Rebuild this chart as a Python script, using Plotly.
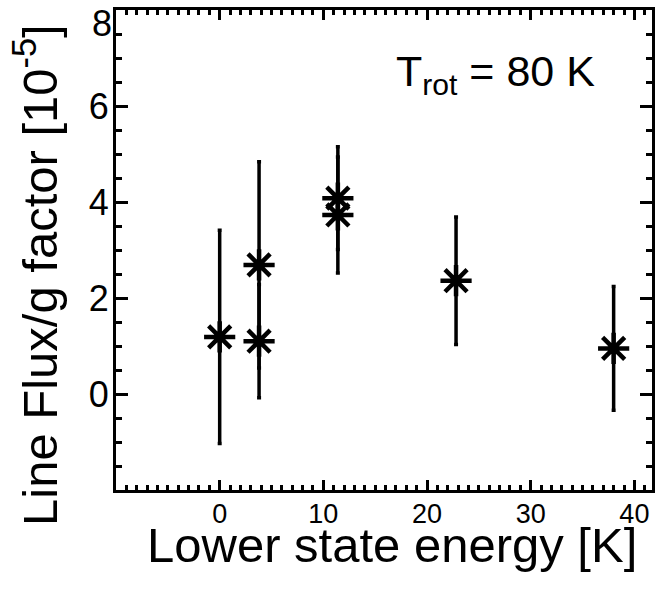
import plotly.graph_objects as go

# Data
energy = [0.0, 3.8, 3.8, 11.4, 11.4, 22.8, 38.0]          # Lower state energy [K]
flux_g = [1.19, 2.69, 1.10, 4.08, 3.73, 2.36, 0.95]         # Line flux / g factor [1e-5]
flux_err = [2.22, 2.15, 1.18, 1.07, 1.21, 1.33, 1.29]

x_ticks = [0, 10, 20, 30, 40]
y_ticks = [0, 2, 4, 6]
y_top_label = "8"

FONT = "Liberation Sans, Arial, Helvetica, sans-serif"

fig = go.Figure()
fig.add_trace(go.Scatter(
    x=energy, y=flux_g, mode="markers",
    marker=dict(symbol="asterisk-open", size=26, color="black",
                line=dict(color="black", width=4.5)),
    error_y=dict(type="data", array=flux_err, visible=True,
                 color="black", thickness=3.5, width=2),
    showlegend=False,
))

axis_common = dict(
    showline=True, linecolor="black", linewidth=3, mirror="ticks",
    ticks="inside", tickcolor="black", tickwidth=3,
    showgrid=False, zeroline=False,
)

fig.update_layout(
    width=655, height=590,
    margin=dict(l=116, r=0, t=10, b=100),
    paper_bgcolor="white", plot_bgcolor="white",
    font=dict(family=FONT, color="black"),
    xaxis=dict(
        range=[-10, 41.7], tickvals=x_ticks, ticklen=10,
        tickfont=dict(size=27, family=FONT, color="black"),
        ticklabelstandoff=-2,
        minor=dict(dtick=1, tick0=0, ticklen=5, tickwidth=3,
                   ticks="inside", tickcolor="black"),
        **axis_common,
    ),
    yaxis=dict(
        range=[-2, 8], tickvals=y_ticks, ticklen=12,
        tickfont=dict(size=36, family=FONT, color="black"),
        ticklabelstandoff=-3,
        minor=dict(dtick=0.5, tick0=0, ticklen=6, tickwidth=3,
                   ticks="inside", tickcolor="black"),
        **axis_common,
    ),
    annotations=[
        dict(text=y_top_label, xref="paper", yref="y", x=0, y=8,
             xanchor="right", yanchor="top", xshift=-2, yshift=9,
             showarrow=False, font=dict(size=36, family=FONT)),
        dict(text="Lower state energy [K]", xref="paper", yref="paper",
             x=0.5, y=0, xanchor="center", yanchor="top",
             xshift=8, yshift=-26, showarrow=False,
             font=dict(size=49, family=FONT)),
        dict(text="Line Flux/g factor [10<sup>-5</sup>]", xref="paper", yref="paper",
             x=0, y=0.5, xanchor="center", yanchor="middle", textangle=-90,
             xshift=-80, yshift=-25, showarrow=False,
             font=dict(size=49, family=FONT)),
        dict(text="T<sub>rot</sub> = 80 K", xref="paper", yref="paper",
             x=0.882, y=0.94, xanchor="right", yanchor="top",
             xshift=8, yshift=-6,
             showarrow=False, font=dict(size=43, family=FONT)),
    ],
)

fig.write_html("out.html")
